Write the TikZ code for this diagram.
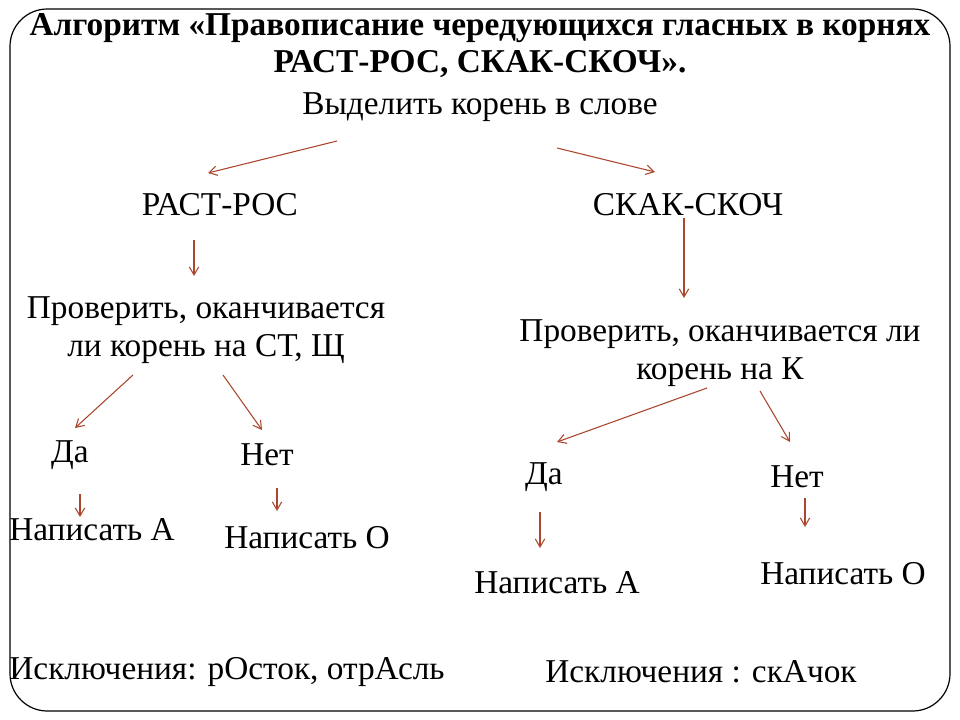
\documentclass[tikz,border=0pt]{standalone}
\usepackage{fontspec}
\setmainfont{Liberation Serif}
\usetikzlibrary{arrows.meta}
\begin{document}
\begin{tikzpicture}[x=0.75pt,y=-0.75pt,
  txt/.style={inner sep=0pt,font=\fontsize{25}{29}\selectfont,align=center},
  ttl/.style={inner sep=0pt,font=\fontsize{25}{29}\selectfont\bfseries},
  arr/.style={draw={rgb,255:red,170;green,70;blue,45},line width=0.8pt,-{Straight Barb[length=6pt,width=7pt]}}]
\useasboundingbox (0,0) rectangle (960,720);
\fill[white] (0,0) rectangle (960,720);
\draw[line width=0.9pt,rounded corners=28] (10,9) rectangle (950,711);
\node[ttl] (t1) at (480,28) {Алгоритм «Правописание чередующихся гласных в корнях};
\node[ttl] (t2) at (480,64) {РАСТ-РОС, СКАК-СКОЧ».};
\node[txt] (root) at (480,107) {Выделить корень в слове};
\node[txt] (rast) at (220,205) {РАСТ-РОС};
\node[txt] (skak) at (688,205) {СКАК-СКОЧ};
\node[txt] (chk1) at (206,330) {Проверить, оканчивается\\ли корень на СТ, Щ};
\node[txt] (chk2) at (720,353) {Проверить, оканчивается ли\\корень на К};
\node[txt] (da1) at (70,455) {Да};
\node[txt] (net1) at (267,455) {Нет};
\node[txt] (da2) at (544,477) {Да};
\node[txt] (net2) at (797,477) {Нет};
\node[txt] (a1) at (92,530) {Написать А};
\node[txt] (o1) at (307,538) {Написать О};
\node[txt] (a2) at (557,583) {Написать А};
\node[txt] (o2) at (843,574) {Написать О};
\node[txt] (ex1) at (227,672) {Исключения: рОсток, отрАсль};
\node[txt] (ex2) at (701,672) {Исключения : скАчок};
\coordinate (r1) at (337,141); \coordinate (r1e) at (208,173);
\coordinate (r2) at (557,148); \coordinate (r2e) at (655,172);
\draw[arr] (r1) -- (r1e);
\draw[arr] (r2) -- (r2e);
\draw[arr] (194,240) coordinate (p3) -- (194,276) coordinate (p3e);
\draw[arr] (684,218) coordinate (p4) -- (684,298) coordinate (p4e);
\draw[arr] (133,375) coordinate (p5) -- (75,428) coordinate (p5e);
\draw[arr] (223,375) coordinate (p6) -- (262,430) coordinate (p6e);
\draw[arr] (707,388) coordinate (p7) -- (557,442) coordinate (p7e);
\draw[arr] (760,391) coordinate (p8) -- (790,442) coordinate (p8e);
\draw[arr] (80,494) coordinate (p9) -- (80,517) coordinate (p9e);
\draw[arr] (277,488) coordinate (p10) -- (277,511) coordinate (p10e);
\draw[arr] (540,512) coordinate (p11) -- (540,548) coordinate (p11e);
\draw[arr] (805,498) coordinate (p12) -- (805,527) coordinate (p12e);
\end{tikzpicture}
\end{document}
